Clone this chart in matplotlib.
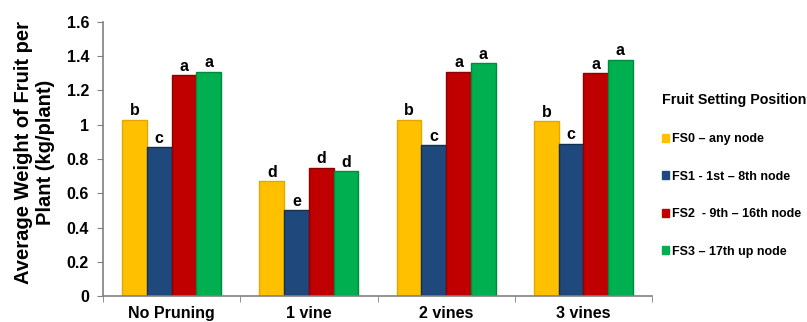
import numpy as np
import matplotlib.pyplot as plt
from matplotlib.patches import Patch

plt.rcParams['font.family'] = ['Liberation Sans', 'DejaVu Sans']
plt.rcParams['font.weight'] = 'bold'

# 数据
categories = ["No Pruning", "1 vine", "2 vines", "3 vines"]
series_names = ["FS0 \u2013 any node", "FS1 - 1st \u2013 8th node",
                "FS2  - 9th \u2013 16th node", "FS3 \u2013 17th up node"]
fs0 = [1.03, 0.67, 1.03, 1.02]
fs1 = [0.87, 0.50, 0.88, 0.89]
fs2 = [1.29, 0.75, 1.31, 1.30]
fs3 = [1.31, 0.73, 1.36, 1.38]
letters_fs0 = ["b", "d", "b", "b"]
letters_fs1 = ["c", "e", "c", "c"]
letters_fs2 = ["a", "d", "a", "a"]
letters_fs3 = ["a", "d", "a", "a"]

colors = ["#FFC000", "#1F497D", "#C00000", "#00B050"]
edges = ["#E0A800", "#14304F", "#8C0000", "#008A3C"]


def plot_chart():
    fig = plt.figure(figsize=(8.07, 3.22), dpi=100)
    ax = fig.add_axes([0.1276, 0.0807, 0.6804, 0.851])

    x = np.arange(len(categories))
    w = 0.18
    all_vals = [fs0, fs1, fs2, fs3]
    all_letters = [letters_fs0, letters_fs1, letters_fs2, letters_fs3]
    for i in range(4):
        pos = x + (i - 1.5) * w
        ax.bar(pos, all_vals[i], width=w, color=colors[i],
               edgecolor=edges[i], linewidth=1.0)
        for px, v, t in zip(pos, all_vals[i], all_letters[i]):
            ax.annotate(t, (px, v), xytext=(0, 1), textcoords='offset points',
                        ha='center', va='bottom', fontsize=11.5, fontweight='bold')

    ax.set_xlim(-0.5, 3.5)
    ax.set_ylim(0, 1.6)
    ax.set_yticks(np.arange(0, 1.61, 0.2))
    ax.set_yticklabels(["0", "0.2", "0.4", "0.6", "0.8", "1", "1.2", "1.4", "1.6"],
                       fontsize=11.5, fontweight='bold')
    ax.set_xticks(x)
    ax.set_xticklabels(categories, fontsize=11.5, fontweight='bold')
    ax.tick_params(axis='x', which='major', length=0, pad=7)
    ax.set_xticks(np.arange(-0.5, 3.6, 1), minor=True)
    ax.tick_params(axis='x', which='minor', length=4, color='#808080')
    ax.tick_params(axis='y', length=4, pad=6, color='#808080')

    for s in ['top', 'right']:
        ax.spines[s].set_visible(False)
    for s in ['left', 'bottom']:
        ax.spines[s].set_color('#808080')
        ax.spines[s].set_linewidth(1.2)

    ax.set_ylabel("Average Weight of Fruit per\nPlant (kg/plant)",
                  fontsize=14.5, fontweight='bold', linespacing=1.15)
    ax.yaxis.set_label_coords(-0.088, 0.525)

    handles = [Patch(facecolor=c, edgecolor=c) for c in colors]
    leg = fig.legend(handles, series_names, loc='upper left',
                     bbox_to_anchor=(0.806, 0.745), frameon=False,
                     title="Fruit Setting Position",
                     prop={'size': 9, 'weight': 'bold'},
                     handlelength=0.6, handleheight=0.6, handletextpad=0.2,
                     labelspacing=2.05)
    leg.get_title().set_fontsize(10.3)
    leg.get_title().set_fontweight('bold')
    leg._legend_box.align = "left"

    plt.savefig("out.png", dpi=100)


if __name__ == "__main__":
    plot_chart()
